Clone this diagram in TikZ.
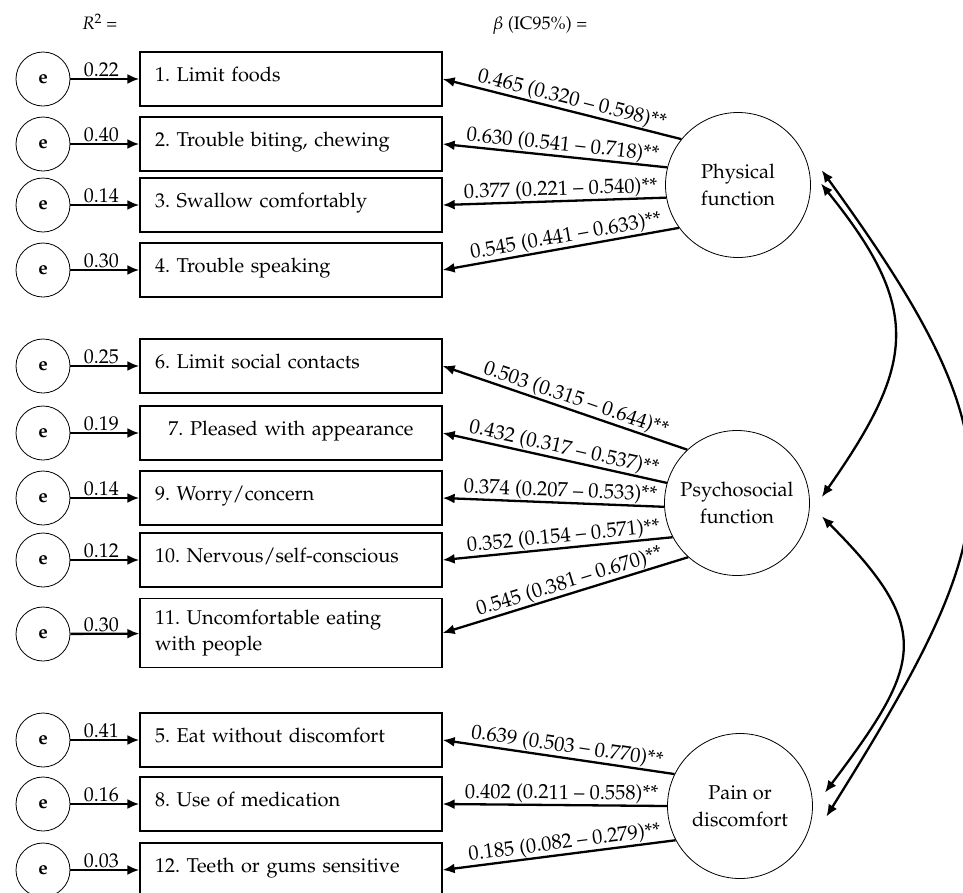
\documentclass[tikz,border=0pt]{standalone}
\usepackage[T1]{fontenc}
\usepackage{mathpazo}
\usepackage{tikz}
\usetikzlibrary{shapes,arrows, positioning, arrows.meta, quotes}
\frenchspacing

\tikzset{
  errnode/.style={draw, circle, line width=0.8pt, minimum size=54pt, inner sep=0pt, font=\fontsize{19}{22}\selectfont\bfseries},
  itembox/.style={draw, rectangle, line width=1.3pt, minimum width=302pt, minimum height=54pt, text width=272pt, align=left, inner sep=0pt, font=\fontsize{20}{26}\selectfont},
  onerow/.style={text height=14pt, text depth=10pt},
  latent/.style={draw, circle, line width=0.8pt, minimum size=145pt, inner sep=0pt, align=center, font=\fontsize{20}{27}\selectfont},
  arr/.style={line width=2.3pt, -{Latex[length=12pt,width=10pt]}},
  cov/.style={line width=2.3pt, {Latex[length=12pt,width=10pt]}-{Latex[length=12pt,width=10pt]}},
  rlab/.style={above, inner sep=0.5pt, pos=0.45, font=\fontsize{20}{22}\selectfont},
  blab/.style={above, sloped, inner sep=0.5pt, pos=0.47, font=\fontsize{20.5}{22}\selectfont},
}

\begin{document}
\begin{tikzpicture}[x=1pt, y=1pt]
        \useasboundingbox (0,0) rectangle (963,-892);
        \clip (0,0) rectangle (963,-892);
        % Encabezados
        \node[font=\fontsize{18}{20}\selectfont] (rhead) at (100,-22) {\textit{R}\textsuperscript{2} =};
        \node[font=\fontsize{18}{20}\selectfont] (bhead) at (540,-25) {$\beta$ (IC95\%) =};
        % Items con su error y R^2
        \foreach \n/\y/\r/\txt in {1/79/0.22/{1. Limit foods}, 2/144/0.40/{2. Trouble biting, chewing},
            3/205/0.14/{3. Swallow comfortably}, 4/270/0.30/{4. Trouble speaking},
            6/366/0.25/{6. Limit social contacts}, 9/498/0.14/{9. Worry/concern},
            10/560/0.12/{10. Nervous/self-conscious}, 5/740/0.41/{5. Eat without discomfort},
            8/804/0.16/{8. Use of medication}, 12/870/0.03/{12. Teeth or gums sensitive}} {
            \node[itembox, onerow] (i\n) at (291,-\y) {\txt};
            \node[errnode] (e\n) at (43,-\y) {e};
            \draw[arr] (e\n) -- node[rlab] {\r} (i\n);
        }
        \node[itembox, onerow, align=center] (i7) at (291,-433) {7. Pleased with appearance};
        \node[errnode] (e7) at (43,-433) {e};
        \draw[arr] (e7) -- node[rlab] {0.19} (i7);
        \node[itembox, minimum height=69pt] (i11) at (291,-633) {11. Uncomfortable eating\\with people};
        \node[errnode] (e11) at (43,-634) {e};
        \draw[arr] (e11) -- node[rlab] {0.30} (i11);
        % Factores latentes
        \node[latent] (phys) at (738,-185) {Physical\\function};
        \node[latent] (psy) at (737,-503) {Psychosocial\\function};
        \node[latent] (pain) at (740,-806) {Pain or\\discomfort};
        % Cargas factoriales
        \foreach \a/\n/\b in {141/1/{0.465 (0.320 -- 0.598)}, 166/2/{0.630 (0.541 -- 0.718)},
            190/3/{0.377 (0.221 -- 0.540)}, 216/4/{0.545 (0.441 -- 0.633)}} {
            \draw[arr] (phys.\a) -- node[blab] {\b**} (i\n.east);
        }
        \foreach \a/\n/\b in {133/6/{0.503 (0.315 -- 0.644)}, 164/7/{0.432 (0.317 -- 0.537)},
            183/9/{0.374 (0.207 -- 0.533)}, 208/10/{0.352 (0.154 -- 0.571)},
            228/11/{0.545 (0.381 -- 0.670)}} {
            \draw[arr] (psy.\a) -- node[blab] {\b**} (i\n.east);
        }
        \foreach \a/\n/\b in {154/5/{0.639 (0.503 -- 0.770)}, 180/8/{0.402 (0.211 -- 0.558)},
            208/12/{0.185 (0.082 -- 0.279)}} {
            \draw[arr] (pain.\a) -- node[blab] {\b**} (i\n.east);
        }
        % Covarianzas
        \draw[cov] ([shift={(10:85)}]phys.center) to[out=-54, in=58, distance=347pt] ([shift={(-7:87)}]pain.center);
        \draw[cov] ([shift={(1:83)}]phys.center) to[out=-51, in=55, distance=162pt] ([shift={(4:85)}]psy.center);
        \draw[cov] ([shift={(-9:86)}]psy.center) to[out=-45, in=53, distance=160pt] ([shift={(9:86)}]pain.center);
    \end{tikzpicture}
\end{document}
